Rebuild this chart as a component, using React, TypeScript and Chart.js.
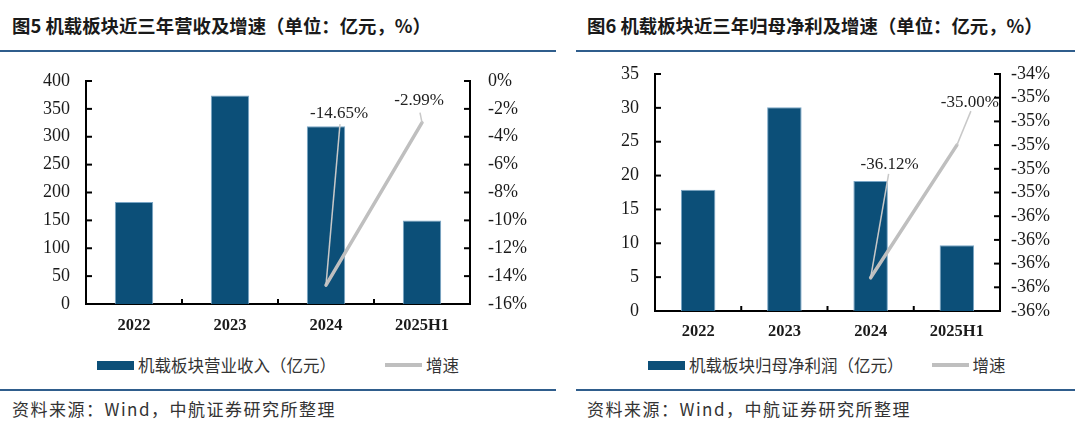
import React, { useEffect, useRef } from 'react';
import { Chart, registerables } from 'chart.js';

Chart.register(...registerables);

// ---------- data ----------
const categories = ['2022', '2023', '2024', '2025H1'];
const revenue = [183, 374, 319, 150];
const revenueGrowth: (number | null)[] = [null, null, -14.65, -2.99];
const profit = [17.9, 30.1, 19.2, 9.7];
const profitGrowth: (number | null)[] = [null, null, -36.12, -35.0];

const revenueAxis = { min: 0, max: 400, step: 50 };
const revenueGrowthAxis = { min: -16, max: 0, step: 2 };
const profitAxis = { min: 0, max: 35, step: 5 };
const profitGrowthAxis = { min: -36.4, max: -34.4, step: 0.2 };

const BAR = '#0c4f78';
const LINE = '#bfbfbf';
const RULE = '#2f5d8c';
const SERIF = "'Liberation Serif', 'Times New Roman', serif";
const CJK = "'Noto Sans CJK SC', sans-serif";

type LabelStyle = { dx: number; dy: number; ax: number; ay: number };

const innerTicks = {
  id: 'innerTicks',
  afterDraw(chart: any) {
    const ctx = chart.ctx;
    const x = chart.scales.x;
    const y = chart.scales.y;
    const y1 = chart.scales.y1;
    ctx.save();
    ctx.strokeStyle = '#000';
    ctx.lineWidth = 2;
    const seg = (a: number, b: number, c: number, d: number) => {
      ctx.beginPath();
      ctx.moveTo(a, b);
      ctx.lineTo(c, d);
      ctx.stroke();
    };
    y.ticks.forEach((t: any) => {
      const py = y.getPixelForValue(t.value);
      seg(y.right, py, y.right + 6, py);
    });
    y1.ticks.forEach((t: any) => {
      const py = y1.getPixelForValue(t.value);
      seg(y1.left - 6, py, y1.left, py);
    });
    for (let i = 1; i < chart.data.labels.length; i++) {
      const px = (x.getPixelForValue(i - 1) + x.getPixelForValue(i)) / 2;
      seg(px, x.top, px, x.top - 5);
    }
    ctx.restore();
  },
};

const growthLabels = {
  id: 'growthLabels',
  afterDatasetsDraw(chart: any, _args: any, opts: any) {
    const ctx = chart.ctx;
    const meta = chart.getDatasetMeta(1);
    const data = chart.data.datasets[1].data;
    const styles: LabelStyle[] = opts.styles || [];
    ctx.save();
    let k = 0;
    data.forEach((v: number | null, i: number) => {
      if (v === null || v === undefined) return;
      const pt = meta.data[i];
      const st = styles[k++] || { dx: 0, dy: -20, ax: 0, ay: 10 };
      const tx = pt.x + st.dx;
      const ty = pt.y + st.dy;
      ctx.strokeStyle = '#c8c8c8';
      ctx.lineWidth = 1.5;
      ctx.beginPath();
      ctx.moveTo(tx + st.ax, ty + st.ay);
      ctx.lineTo(pt.x, pt.y);
      ctx.stroke();
      ctx.fillStyle = '#222';
      ctx.font = `17px ${SERIF}`;
      ctx.textAlign = 'center';
      ctx.textBaseline = 'middle';
      ctx.fillText(`${v.toFixed(2)}%`, tx, ty);
    });
    ctx.restore();
  },
};

type PanelCfg = {
  bars: number[];
  growth: (number | null)[];
  left: { min: number; max: number; step: number };
  right: { min: number; max: number; step: number };
  rightFmt: (v: number) => string;
  leftWidth: number;
  rightWidth: number;
  padTop: number;
  xHeight: number;
  leftPad: number;
  rightPad: number;
  xPad: number;
  barPct: number;
  labelStyles: LabelStyle[];
};

function ChartPanel({ cfg }: { cfg: PanelCfg }) {
  const ref = useRef<HTMLCanvasElement | null>(null);
  useEffect(() => {
    if (!ref.current) return;
    const tickFont = { family: SERIF, size: 18 };
    const chart = new Chart(ref.current, {
      type: 'bar',
      data: {
        labels: categories,
        datasets: [
          {
            type: 'bar',
            data: cfg.bars,
            backgroundColor: BAR,
            borderColor: '#7aa6c6',
            borderWidth: 1,
            yAxisID: 'y',
            categoryPercentage: 1,
            barPercentage: cfg.barPct,
            order: 2,
          },
          {
            type: 'line',
            data: cfg.growth as any,
            borderColor: LINE,
            borderWidth: 3.5,
            pointRadius: 0,
            yAxisID: 'y1',
            spanGaps: false,
            borderCapStyle: 'round',
            order: 1,
          } as any,
        ],
      },
      options: {
        responsive: false,
        animation: false,
        layout: { padding: { top: cfg.padTop, left: 0, right: 0, bottom: 0 } },
        plugins: {
          legend: { display: false },
          tooltip: { enabled: false },
          growthLabels: { styles: cfg.labelStyles },
        } as any,
        scales: {
          x: {
            grid: { display: false, drawTicks: false },
            border: { display: true, color: '#000', width: 2 },
            ticks: { font: { family: SERIF, size: 16.5, weight: 'bold' }, color: '#1a1a1a', padding: cfg.xPad },
            afterFit: (s: any) => {
              s.height = cfg.xHeight;
              s.paddingLeft = 0;
              s.paddingRight = 0;
            },
          },
          y: {
            position: 'left',
            min: cfg.left.min,
            max: cfg.left.max,
            grid: { display: false, drawTicks: false },
            border: { display: true, color: '#000', width: 2 },
            ticks: { stepSize: cfg.left.step, autoSkip: false, font: tickFont, color: '#1a1a1a', padding: cfg.leftPad },
            afterFit: (s: any) => {
              s.width = cfg.leftWidth;
              s.paddingTop = 0;
              s.paddingBottom = 0;
            },
          },
          y1: {
            position: 'right',
            min: cfg.right.min,
            max: cfg.right.max,
            grid: { display: false, drawTicks: false },
            border: { display: true, color: '#000', width: 2 },
            ticks: {
              stepSize: cfg.right.step,
              autoSkip: false,
              font: tickFont,
              color: '#1a1a1a',
              padding: cfg.rightPad,
              callback: (v: any) => cfg.rightFmt(Number(v)),
            },
            afterFit: (s: any) => {
              s.width = cfg.rightWidth;
              s.paddingTop = 0;
              s.paddingBottom = 0;
            },
          },
        },
      } as any,
      plugins: [innerTicks, growthLabels],
    });
    return () => chart.destroy();
  }, [cfg]);
  return <canvas ref={ref} width={540} height={280} style={{ display: 'block', width: 540, height: 280 }} />;
}

const leftCfg: PanelCfg = {
  bars: revenue,
  growth: revenueGrowth,
  left: revenueAxis,
  right: revenueGrowthAxis,
  rightFmt: (v) => `${Math.round(v)}%`,
  leftWidth: 86,
  rightWidth: 70,
  padTop: 21,
  xHeight: 36,
  leftPad: 16,
  rightPad: 18,
  xPad: 12,
  barPct: 0.4,
  labelStyles: [
    { dx: 13, dy: -172, ax: 1, ay: 11 },
    { dx: -3, dy: -22, ax: 1, ay: 12 },
  ],
};

const rightCfg: PanelCfg = {
  bars: profit,
  growth: profitGrowth,
  left: profitAxis,
  right: profitGrowthAxis,
  rightFmt: (v) => `${Number(v).toFixed(0)}%`,
  leftWidth: 115,
  rightWidth: 80,
  padTop: 14,
  xHeight: 29,
  leftPad: 16,
  rightPad: 11,
  xPad: 11,
  barPct: 0.4,
  labelStyles: [
    { dx: 19, dy: -113, ax: -1, ay: 9 },
    { dx: 13, dy: -43, ax: 1, ay: 9 },
  ],
};

const abs = (l: number, t: number, extra: React.CSSProperties = {}): React.CSSProperties => ({
  position: 'absolute',
  left: l,
  top: t,
  ...extra,
});

function Legend({ left, top, barText, gap }: { left: number; top: number; barText: string; gap: number }) {
  const txt: React.CSSProperties = { fontFamily: CJK, fontSize: 16.5, color: '#333', whiteSpace: 'nowrap', lineHeight: '20px' };
  return (
    <div style={abs(left, top, { display: 'flex', alignItems: 'center', height: 20 })}>
      <div style={{ width: 37, height: 9, background: BAR, marginRight: 4 }} />
      <span style={txt}>{barText}</span>
      <div style={{ width: 37, height: 3.5, background: LINE, marginLeft: gap, marginRight: 4 }} />
      <span style={txt}>增速</span>
    </div>
  );
}

export default function App() {
  const titleStyle: React.CSSProperties = {
    fontFamily: CJK,
    fontWeight: 700,
    fontSize: 18.4,
    color: '#1a1a1a',
    whiteSpace: 'nowrap',
    lineHeight: '22px',
  };
  const srcStyle: React.CSSProperties = {
    fontFamily: CJK,
    fontSize: 17,
    letterSpacing: 1.5,
    color: '#333',
    whiteSpace: 'nowrap',
    lineHeight: '20px',
  };
  return (
    <div style={{ position: 'absolute', left: 0, top: 0, width: 1080, height: 422, background: '#fff', overflow: 'hidden' }}>
      <div style={abs(12, 14, titleStyle)}>图5 机载板块近三年营收及增速（单位：亿元，%）</div>
      <div style={abs(587, 14, titleStyle)}>图6 机载板块近三年归母净利及增速（单位：亿元，%）</div>
      <div style={abs(0, 50, { width: 556, height: 2, background: RULE })} />
      <div style={abs(576, 50, { width: 499, height: 2, background: RULE })} />
      <div style={abs(0, 60)}>
        <ChartPanel cfg={leftCfg} />
      </div>
      <div style={abs(540, 60)}>
        <ChartPanel cfg={rightCfg} />
      </div>
      <Legend left={97} top={355} barText="机载板块营业收入（亿元）" gap={49} />
      <Legend left={648} top={355} barText="机载板块归母净利润（亿元）" gap={28} />
      <div style={abs(0, 389, { width: 556, height: 2, background: RULE })} />
      <div style={abs(576, 389, { width: 499, height: 2, background: RULE })} />
      <div style={abs(12, 399, srcStyle)}>资料来源：Wind，中航证券研究所整理</div>
      <div style={abs(587, 399, srcStyle)}>资料来源：Wind，中航证券研究所整理</div>
    </div>
  );
}
